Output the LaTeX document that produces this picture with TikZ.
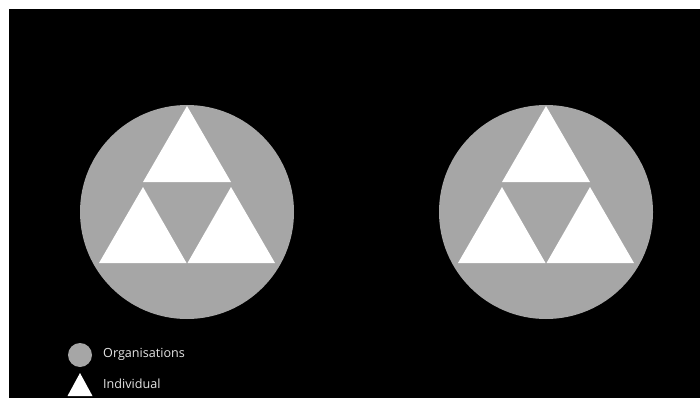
\documentclass[tikz,border=0pt]{standalone}
\usepackage{fontspec}
\setmainfont{Open Sans}
\definecolor{orggray}{RGB}{166,166,166}
\definecolor{txtcol}{RGB}{228,228,228}
\tikzset{
  orgfill/.style={fill=orggray},
  indfill/.style={fill=white},
  legendtext/.style={anchor=west, inner sep=0pt, text=txtcol, font=\fontsize{12.6}{15}\selectfont}
}
\begin{document}
\begin{tikzpicture}[x=1pt,y=-1pt]
\useasboundingbox (0,0) rectangle (700,398);
\fill[white] (0,0) rectangle (700,398);
\fill[black] (9,9) rectangle (700,398);
\foreach \cx in {187,546} {
  \fill[orgfill] (\cx,212) circle (107pt);
  \fill[indfill] (\cx,106) -- (\cx+44,182) -- (\cx-44,182) -- cycle;
  \fill[indfill] (\cx-44,187) -- (\cx-0.5,263) -- (\cx-88,263) -- cycle;
  \fill[indfill] (\cx+44,187) -- (\cx+88,263) -- (\cx+0.5,263) -- cycle;
}
\node[circle, orgfill, minimum size=24pt, inner sep=0pt] (legorg) at (80,355) {};
\fill[indfill] (80,373) -- (92.5,396) -- (67.5,396) -- cycle;
\coordinate (legind) at (80,385);
\node[legendtext] (orgtext) at (103,354) {Organisations};
\node[legendtext] (indtext) at (103,384) {Individual};
\end{tikzpicture}
\end{document}
